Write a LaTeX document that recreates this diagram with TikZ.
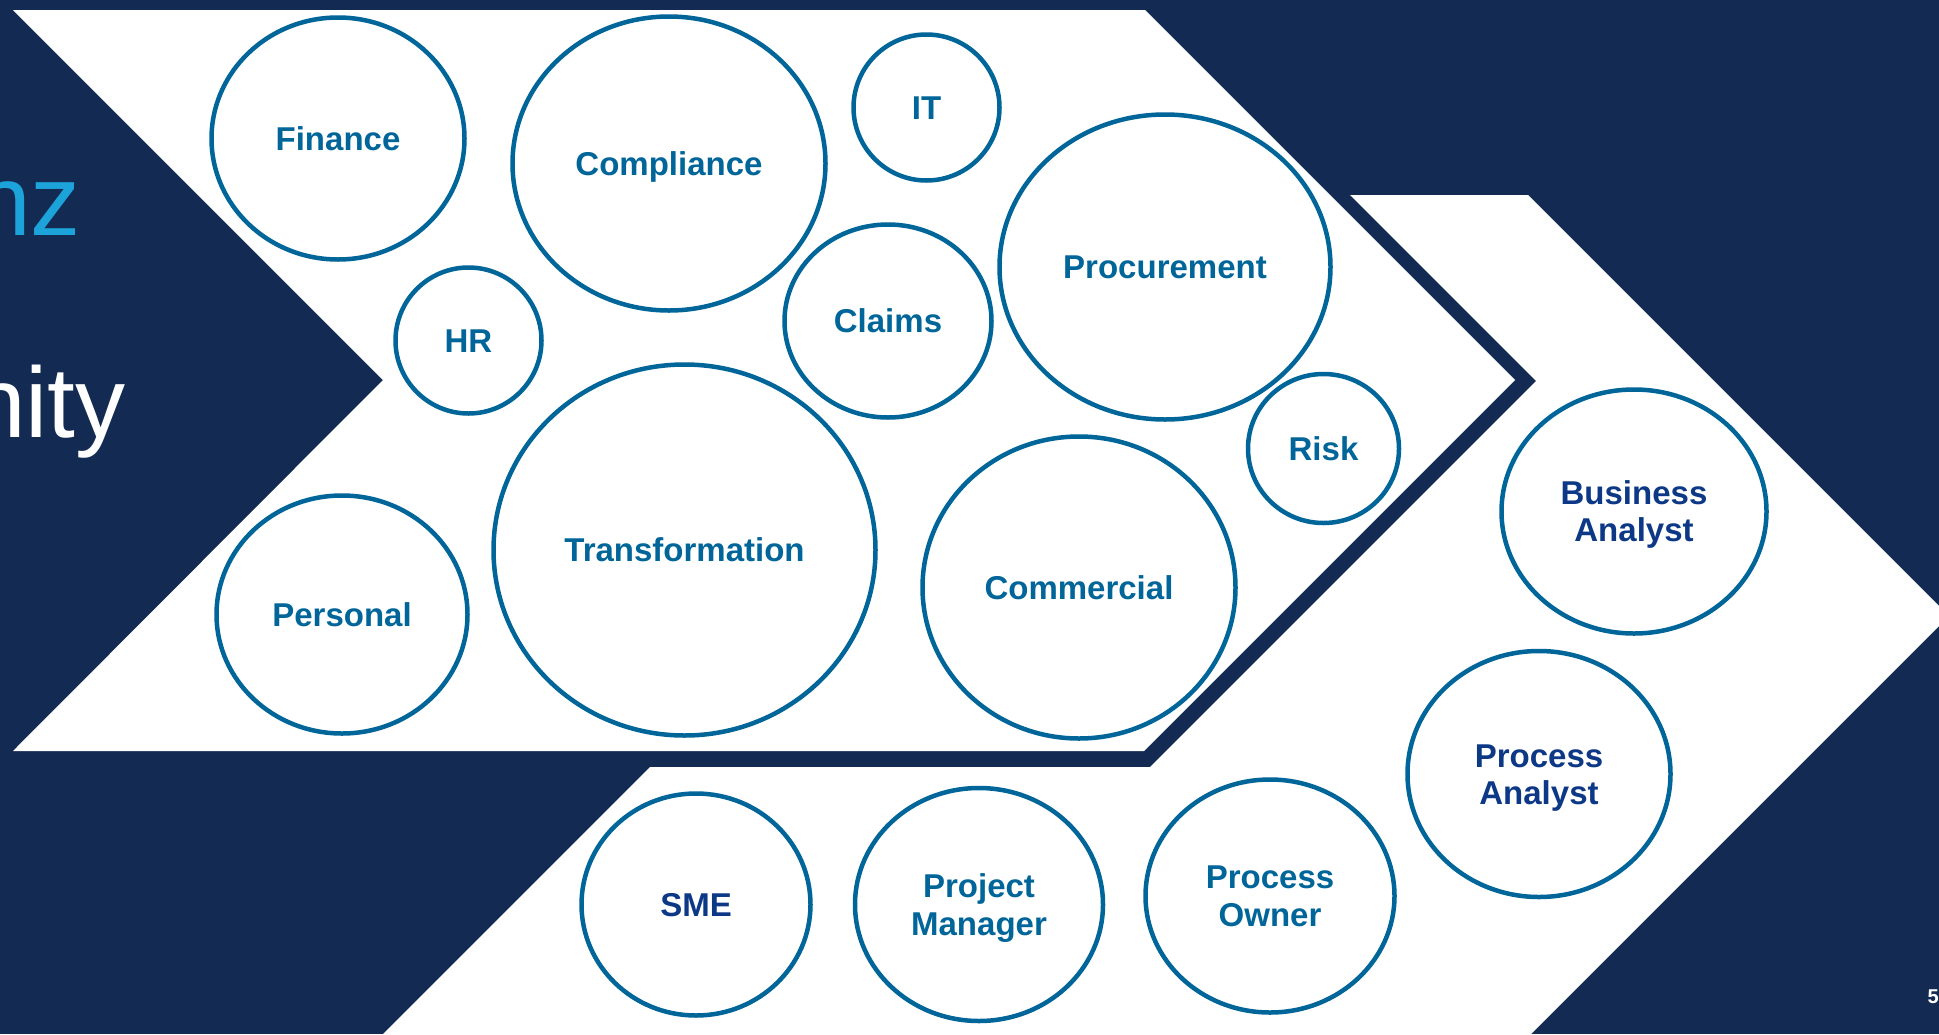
\documentclass[tikz,border=0pt]{standalone}
\usepackage{fontspec}
\setmainfont{Liberation Sans}
\usetikzlibrary{shapes.geometric}
\definecolor{bgnavy}{RGB}{19,43,83}
\definecolor{bubline}{RGB}{0,101,153}
\definecolor{rolenavy}{RGB}{12,56,134}
\definecolor{brandcyan}{RGB}{28,163,217}
\tikzset{
  bub/.style={ellipse, draw=bubline, line width=4.5pt, inner sep=0pt},
  lab/.style={font=\fontsize{33}{37}\selectfont\bfseries, text=bubline, inner sep=0pt, text height=23.6pt, text depth=0pt},
  rolelab/.style={lab, text=rolenavy},
  bigtext/.style={font=\fontsize{100}{110}\selectfont, inner sep=0pt, anchor=base east},
}
\begin{document}
\begin{tikzpicture}[x=1pt,y=-1pt]
\useasboundingbox (0,0) rectangle (1939,1034);
\clip (0,0) rectangle (1939,1034);
\fill[bgnavy] (0,0) rectangle (1939,1034);
% second chevron
\fill[white] (1350,195) -- (1528,195) -- (1949,616) -- (1525,1040) -- (377,1040) -- (650,767) -- (1150,767) -- (1536,381) -- cycle;
% first chevron
\fill[white] (13,10) -- (1145,10) -- (1515,380) -- (1144,751) -- (13,751) -- (383,380) -- cycle;
% left title fragments
\node[bigtext, text=brandcyan] (t1) at (81,235) {nz};
\node[bigtext, text=white] (t2) at (126,437) {nity};
% page number
\node[font=\fontsize{20}{24}\selectfont\bfseries, text=white, anchor=base west, inner sep=0pt] (pg) at (1927.5,1003) {5};
% bubbles, first chevron
\node[bub, minimum width=253pt, minimum height=242pt] (fin) at (338,138.5) {};
\node[lab] (finl) at (fin.center) {Finance};
\node[bub, minimum width=313pt, minimum height=294pt] (comp) at (669,163.5) {};
\node[lab] (compl) at (comp.center) {Compliance};
\node[bub, minimum width=146pt, minimum height=146pt] (it) at (926.5,107.5) {};
\node[lab] (itl) at (it.center) {IT};
\node[bub, minimum width=146pt, minimum height=146pt] (hr) at (468.5,340.5) {};
\node[lab] (hrl) at (hr.center) {HR};
\node[bub, minimum width=207pt, minimum height=193pt] (clm) at (888,321) {};
\node[lab] (clml) at (clm.center) {Claims};
\node[bub, minimum width=331pt, minimum height=305pt] (proc) at (1165,267) {};
\node[lab] (procl) at (proc.center) {Procurement};
\node[bub, minimum width=151pt, minimum height=149pt] (risk) at (1323.5,448.5) {};
\node[lab] (riskl) at (risk.center) {Risk};
\node[bub, minimum width=251pt, minimum height=238pt] (pers) at (342,614.5) {};
\node[lab] (persl) at (pers.center) {Personal};
\node[bub, minimum width=382pt, minimum height=371pt] (trans) at (684.5,550) {};
\node[lab] (transl) at (trans.center) {Transformation};
\node[bub, minimum width=313pt, minimum height=302pt] (comm) at (1079,587.5) {};
\node[lab] (comml) at (comm.center) {Commercial};
% bubbles, second chevron
\node[bub, minimum width=265pt, minimum height=244pt] (ba) at (1634,511.5) {};
\node[rolelab] (ba1) at ([yshift=18.5pt]ba.center) {Business};
\node[rolelab] (ba2) at ([yshift=-18.5pt]ba.center) {Analyst};
\node[bub, minimum width=263pt, minimum height=246pt] (pa) at (1539,774) {};
\node[rolelab] (pa1) at ([yshift=18.5pt]pa.center) {Process};
\node[rolelab] (pa2) at ([yshift=-18.5pt]pa.center) {Analyst};
\node[bub, minimum width=229pt, minimum height=222pt] (sme) at (696,904.5) {};
\node[rolelab] (smel) at (sme.center) {SME};
\node[bub, minimum width=248pt, minimum height=233pt] (pm) at (979,904.5) {};
\node[lab] (pm1) at ([yshift=19pt]pm.center) {Project};
\node[lab] (pm2) at ([yshift=-19pt]pm.center) {Manager};
\node[bub, minimum width=249pt, minimum height=233pt] (po) at (1270,896) {};
\node[lab] (po1) at ([yshift=19pt]po.center) {Process};
\node[lab] (po2) at ([yshift=-19pt]po.center) {Owner};
\end{tikzpicture}
\end{document}
